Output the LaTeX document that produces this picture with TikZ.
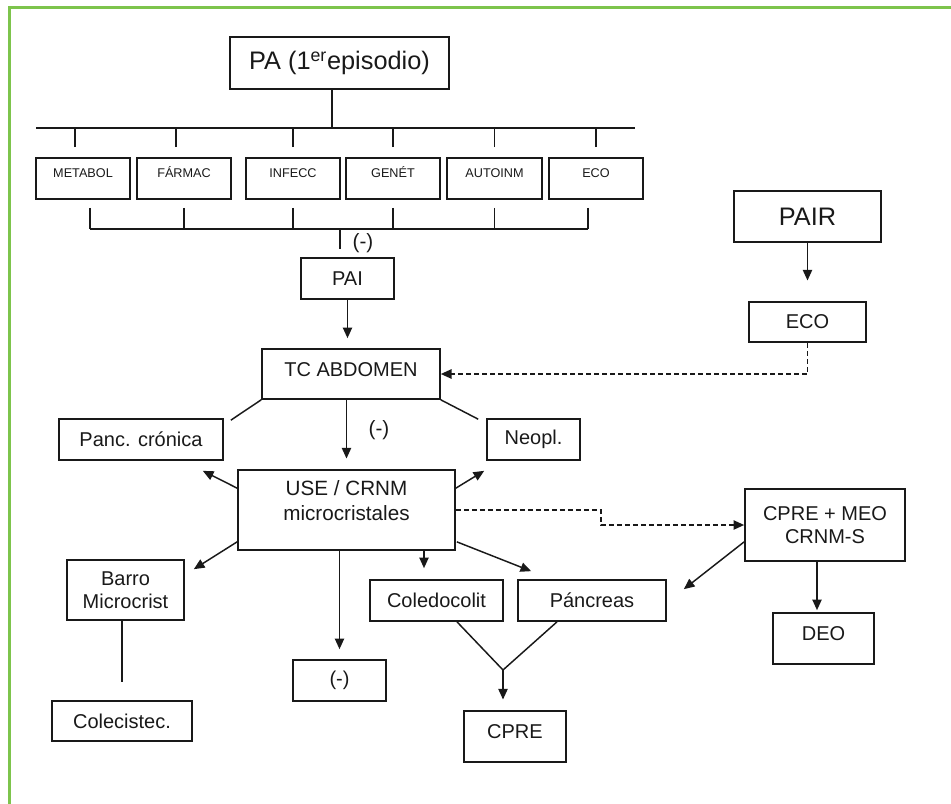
\documentclass[tikz,border=0pt]{standalone}
\usepackage{fontspec}
\setmainfont{Liberation Sans}
\usepackage{xcolor}
\definecolor{frgreen}{RGB}{125,196,76}
\definecolor{lnblack}{RGB}{25,25,25}
\usetikzlibrary{arrows.meta, calc}

\begin{document}
\begin{tikzpicture}[
  x=0.75pt, y=-0.75pt,
  box/.style={rectangle, draw=lnblack, line width=1.25pt, inner sep=0pt, align=center,
              text=lnblack, font=\fontsize{15}{17}\selectfont},
  sbox/.style={box, font=\fontsize{9.5}{11}\selectfont, text height=7pt, text depth=9pt},
  bbox/.style={box, font=\fontsize{19}{22}\selectfont},
  raised/.style={text height=10.7pt, text depth=7.5pt},
  txt/.style={font=\fontsize{15.5}{18.75}\selectfont, text=lnblack, align=center, inner sep=0pt},
  sz/.style 2 args={minimum width=#1*0.75pt, minimum height=#2*0.75pt},
  ln/.style={draw=lnblack, line width=1.1pt},
  arr/.style={ln, -{Triangle[length=8pt, width=7pt]}},
  darr/.style={arr, dash pattern=on 3.5pt off 2.5pt}
]
\useasboundingbox (0,0) rectangle (951,804);

% frame
\draw[frgreen, line width=2.2pt] (8,7.5) -- (951,7.5);
\draw[frgreen, line width=2.2pt] (9.5,6) -- (9.5,804);

% first episode and causes
\node[bbox, sz={219}{52}] (pa) at (339.5,63) {PA (1\textsuperscript{er}episodio)};
\node[sbox, sz={94}{41}] (metabol) at (83,178.5) {METABOL};
\node[sbox, sz={94}{41}] (farmac) at (184,178.5) {FÁRMAC};
\node[sbox, sz={94}{41}] (infecc) at (293,178.5) {INFECC};
\node[sbox, sz={94}{41}] (genet) at (393,178.5) {GENÉT};
\node[sbox, sz={95}{41}] (autoinm) at (494.5,178.5) {AUTOINM};
\node[sbox, sz={94}{41}] (ecoa) at (596,178.5) {ECO};

\coordinate (busl) at (36,128);
\coordinate (busr) at (635,128);
\coordinate (pastem) at ($(pa.south)+(-7.5,0)$);
\draw[ln] (busl) -- (busr);
\draw[ln] (pastem) -- (pastem |- busl);

\draw[ln] ($(metabol.north)+(-8,-10)$) -- ($(metabol.north)+(-8,-30)$);
\draw[ln] ($(farmac.north)+(-8,-10)$) -- ($(farmac.north)+(-8,-30)$);
\draw[ln] ($(infecc.north)+(0,-10)$) -- ($(infecc.north)+(0,-30)$);
\draw[ln] ($(genet.north)+(0,-10)$) -- ($(genet.north)+(0,-30)$);
\draw[ln] ($(autoinm.north)+(0,-10)$) -- ($(autoinm.north)+(0,-30)$);
\draw[ln] ($(ecoa.north)+(0,-10)$) -- ($(ecoa.north)+(0,-30)$);

\draw[ln] ($(metabol.south)+(7,8)$) -- ($(metabol.south)+(7,29)$);
\draw[ln] ($(farmac.south)+(0,8)$) -- ($(farmac.south)+(0,29)$);
\draw[ln] ($(infecc.south)+(0,8)$) -- ($(infecc.south)+(0,29)$);
\draw[ln] ($(genet.south)+(0,8)$) -- ($(genet.south)+(0,29)$);
\draw[ln] ($(autoinm.south)+(0,8)$) -- ($(autoinm.south)+(0,29)$);
\draw[ln] ($(ecoa.south)+(-8,8)$) -- ($(ecoa.south)+(-8,29)$);
\draw[ln] ($(metabol.south)+(7,29)$) -- ($(ecoa.south)+(-8,29)$);

\coordinate (busbm) at (340,228);
\draw[ln] (busbm) -- ++(0,21);
\node[txt] (neg1) at (363,243) {(-)};

% PAI and imaging
\node[box, sz={93}{41}] (pai) at (347.5,278.5) {PAI};
\node[box, sz={178}{50}, raised] (tc) at (351,374) {TC ABDOMEN};
\node[bbox, sz={147}{51}] (pair) at (807.5,216.5) {PAIR};
\node[box, sz={117}{40}] (ecob) at (807.5,322) {ECO};
\node[box, sz={164}{41}] (panc) at (141,439.5) {Panc. crónica};
\node[box, sz={93}{41}] (neopl) at (533.5,439.5) {Neopl.};
\node[txt] (neg2) at (379,430) {(-)};

\node[box, sz={217}{80}] (use) at (346.5,510) {};
\node[txt] (uset) at (346.5,500.5) {USE / CRNM\\microcristales};
\node[box, sz={160}{72}] (cpremeo) at (825,525) {CPRE + MEO\\CRNM-S};

% findings
\node[box, sz={117}{60}] (barro) at (125.5,590) {Barro\\Microcrist};
\node[box, sz={140}{40}] (colec) at (122,721) {Colecistec.};
\node[box, sz={93}{41}] (negb) at (339.5,680.5) {(-)};
\node[box, sz={133}{41}] (coledo) at (436.5,600.5) {Coledocolit};
\node[box, sz={148}{41}] (panc2) at (592,600.5) {Páncreas};
\node[box, sz={102}{51}, raised] (cpre) at (515,736.5) {CPRE};
\node[box, sz={101}{51}, raised] (deo) at (823.5,638.5) {DEO};

\draw[arr, shorten >=7.5pt] (pai.south) -- (pai.south |- tc.north);
\draw[arr, shorten >=15.5pt] (pair) -- (ecob);
\draw[darr] (ecob.south) |- (tc.east);
\draw[ln] (tc.south west) -- ($(panc.north east)+(7,2)$);
\draw[ln] (tc.south east) -- ($(neopl.north west)+(-8,1)$);
\draw[arr, shorten >=8pt] (use.north |- tc.south) -- (use.north);

\draw[arr] ($(use.north west)+(0,19)$) -- ($(panc.south east)+(-21,10)$);
\draw[arr] ($(use.north east)+(0,19)$) -- ($(neopl.south west)+(-2,10)$);
\draw[arr] ($(use.south west)+(0,-9)$) -- ($(barro.north east)+(9,10)$);
\draw[arr, shorten >=7.5pt] (use.south -| negb) -- (negb.north);
\draw[arr] ($(use.south)+(77.5,0)$) -- ($(coledo.north)+(-12.5,-11)$);
\draw[arr] ($(use.south east)+(1,-9)$) -- ($(panc2.north west)+(14,-8)$);
\draw[darr] (use.east) -- ++(145,0) |- (cpremeo.west);

\draw[arr] ($(cpremeo.south west)+(0,-20)$) -- ($(panc2.north east)+(17,10)$);
\draw[arr] ($(cpremeo.south)+(-8,0)$) -- ($(deo.north)+(-6.5,-2)$);

\draw[ln, shorten >=14pt] (barro.south -| colec) -- (colec.north);
\coordinate (vjoin) at (503,670);
\draw[ln] ($(coledo.south)+(20.5,0)$) -- (vjoin) -- ($(panc2.south)+(-35,0)$);
\draw[arr, shorten >=8pt] (vjoin) -- (vjoin |- cpre.north);
\end{tikzpicture}
\end{document}
